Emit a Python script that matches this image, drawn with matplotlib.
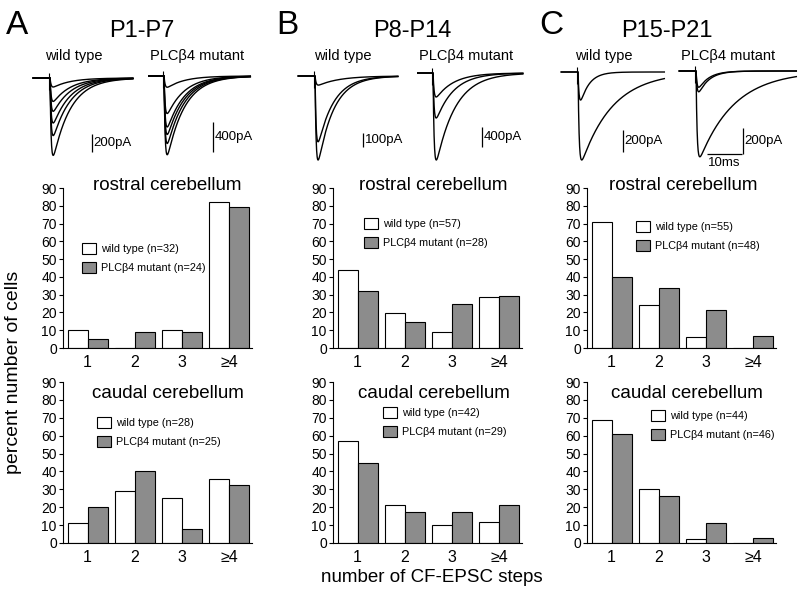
import numpy as np
import matplotlib
matplotlib.use('Agg')
import matplotlib.pyplot as plt

plt.rcParams['font.family'] = ['Liberation Sans', 'DejaVu Sans']

W, H = 800, 597

# percent number of cells for each number of CF-EPSC steps
steps = ['1', '2', '3', '≥4']
ages = ['P1-P7', 'P8-P14', 'P15-P21']
letters = ['A', 'B', 'C']

rostral_wt = [[10, 0, 10, 82], [44, 19.5, 9, 28.5], [71, 24, 6, 0]]
rostral_mut = [[5, 9, 9, 79.5], [32, 14.5, 25, 29], [40, 34, 21.5, 7]]
caudal_wt = [[11, 29, 25, 36], [57, 21.5, 10, 12], [68.5, 30, 2.5, 0]]
caudal_mut = [[20, 40, 8, 32.5], [45, 17.5, 17.5, 21.5], [61, 26.5, 11, 3]]
rostral_n_wt = [32, 57, 55]
rostral_n_mut = [24, 28, 48]
caudal_n_wt = [28, 42, 44]
caudal_n_mut = [25, 29, 46]

# example CF-EPSC traces: peak amplitudes (pA) and decay constants (ms)
wt_amps = [[100, 260, 370, 500, 640, 860], [65, 470, 600], [255, 800]]
wt_tau = [[5, 5, 5, 5, 5, 5], [6, 4.5, 4.5], [2.5, 9]]
mut_amps = [[150, 500, 680, 780, 900, 1050], [480, 900, 1740], [125, 160, 660]]
mut_tau = [[5, 5, 5, 5, 5, 5], [5, 5, 5.5], [3, 3, 10]]
wt_scale = [200, 100, 200]
mut_scale = [400, 400, 200]

fig = plt.figure(figsize=(W / 100, H / 100), dpi=100)


def px_axes(l, t, r, b):
    return fig.add_axes([l / W, 1 - b / H, (r - l) / W, (b - t) / H])


def epsc(t, amp, tau, rise=0.3, lat=0.3):
    s = np.clip(t - lat, 0, None)
    w = np.exp(-s / tau) - np.exp(-s / rise)
    return -amp * w / w.max()


MS_PX = 3.5  # pixels per ms


def trace_panel(l, r, base, stim, amps, taus, bar_pA, bar_px, t_end,
                bar_x, bar_bot, time_bar=None):
    ax = px_axes(l, 40, r, 172)
    k = bar_pA / bar_px  # pA per pixel
    ax.set_xlim((l - stim) / MS_PX, (r - stim) / MS_PX)
    ax.set_ylim(-(172 - base) * k, (base - 40) * k)
    ax.axis('off')
    t = np.arange(-4.5, t_end, 0.05)
    for a, tau in zip(amps, taus):
        ax.plot(t, epsc(t, a, tau), color='k', lw=1.0)
    # stimulus artifact
    ax.vlines(0, -12 * k, 5 * k, color='k', lw=0.8)
    # current scale bar
    bx = (bar_x - stim) / MS_PX
    by = -(bar_bot - base) * k
    ax.vlines(bx, by, by + bar_pA, color='k', lw=0.9)
    ax.text(bx + 0.5, by + bar_pA / 2, f'{bar_pA}pA', fontsize=9.5,
            va='center', ha='left')
    if time_bar is not None:
        x0 = (time_bar[0] - stim) / MS_PX
        ax.hlines(by, x0, x0 + 10, color='k', lw=0.9)
        ax.text(x0 + 5, by - 3 * k, '10ms', fontsize=9.5, ha='center', va='top')
    return ax


trace_cfg = [
    # wt: l, r, base, stim, t_end, bar_x, bar_bot ; mutant the same
    ((30, 136, 78, 49, 24, 92, 152), (148, 255, 76, 163, 25, 213, 152)),
    ((297, 400, 76, 314, 24, 363, 147), (417, 525, 73, 432, 26, 482, 147)),
    ((560, 667, 72, 577, 25, 623, 152), (677, 799, 71, 695, 29, 743, 154)),
]
wt_bar_px = [18, 14, 22]
mut_bar_px = [30, 20, 26]

for i in range(3):
    w, m = trace_cfg[i]
    trace_panel(w[0], w[1], w[2], w[3], wt_amps[i], wt_tau[i], wt_scale[i],
                wt_bar_px[i], w[4], w[5], w[6])
    trace_panel(m[0], m[1], m[2], m[3], mut_amps[i], mut_tau[i], mut_scale[i],
                mut_bar_px[i], m[4], m[5], m[6],
                time_bar=(707,) if i == 2 else None)

# panel letters, age titles, trace labels
letter_x = [17, 287, 551]
age_x = [142, 412, 667]
wt_lab_x = [74, 343, 604]
mut_lab_x = [197, 466, 728]
for i in range(3):
    fig.text(letter_x[i] / W, 1 - 26 / H, letters[i], fontsize=24,
             ha='center', va='center')
    fig.text(age_x[i] / W, 1 - 31 / H, ages[i], fontsize=17,
             ha='center', va='center')
    fig.text(wt_lab_x[i] / W, 1 - 56 / H, 'wild type', fontsize=10.5,
             ha='center', va='center')
    fig.text(mut_lab_x[i] / W, 1 - 56 / H, 'PLCβ4 mutant', fontsize=10.5,
             ha='center', va='center')


def bar_panel(ax, wt, mut, n_wt, n_mut, title, title_xy, leg_xy):
    x = np.arange(len(steps))
    bw = 0.423
    ax.bar(x - bw / 2, wt, bw, color='white', edgecolor='black', lw=0.8,
           label=f'wild type (n={n_wt})')
    ax.bar(x + bw / 2, mut, bw, color='#8c8c8c', edgecolor='black', lw=0.8,
           label=f'PLCβ4 mutant (n={n_mut})')
    ax.set_xlim(-0.52, 3.48)
    ax.set_ylim(0, 90)
    ax.set_yticks(range(0, 91, 10))
    ax.set_xticks(x, steps)
    ax.tick_params(axis='x', length=0, labelsize=11.5, pad=5)
    ax.tick_params(axis='y', length=3, width=0.8, labelsize=10, pad=1.5)
    for s in ['top', 'right']:
        ax.spines[s].set_visible(False)
    for s in ['left', 'bottom']:
        ax.spines[s].set_linewidth(0.8)
    ax.patch.set_alpha(0)
    fig.text(title_xy[0] / W, 1 - title_xy[1] / H, title, fontsize=13.5,
             ha='center', va='center')
    ax.legend(loc='upper left', bbox_to_anchor=(leg_xy[0] / W, 1 - leg_xy[1] / H),
              bbox_transform=fig.transFigure, frameon=False, fontsize=7.8,
              handlelength=1.25, handleheight=1.25, handletextpad=0.5,
              labelspacing=0.7, borderpad=0, borderaxespad=0)


axes_left = [63, 333, 587]
rostral_title_x = [167, 433, 683]
caudal_title_x = [168, 434, 687]
rostral_leg = [(82, 243), (364, 218), (636, 221)]
caudal_leg = [(97, 417), (383, 407), (651, 410)]

for i in range(3):
    ax_r = px_axes(axes_left[i], 188, axes_left[i] + 189, 348)
    bar_panel(ax_r, rostral_wt[i], rostral_mut[i], rostral_n_wt[i],
              rostral_n_mut[i], 'rostral cerebellum',
              (rostral_title_x[i], 186), rostral_leg[i])
    ax_c = px_axes(axes_left[i], 382, axes_left[i] + 189, 543)
    bar_panel(ax_c, caudal_wt[i], caudal_mut[i], caudal_n_wt[i],
              caudal_n_mut[i], 'caudal cerebellum',
              (caudal_title_x[i], 394), caudal_leg[i])

fig.text(14 / W, 1 - 372 / H, 'percent number of cells', fontsize=14,
         rotation=90, ha='center', va='center')
fig.text(432 / W, 1 - 577 / H, 'number of CF-EPSC steps', fontsize=13.5,
         ha='center', va='center')

fig.savefig('out.png', dpi=100)
